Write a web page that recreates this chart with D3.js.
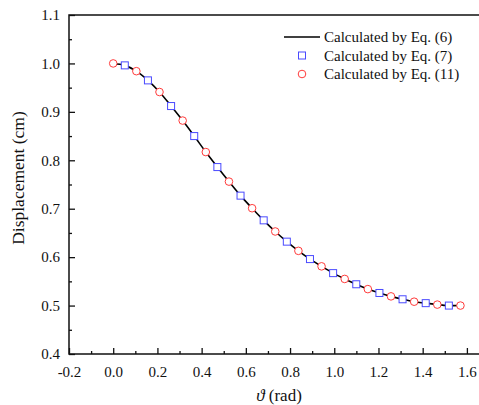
<!DOCTYPE html>
<html>
<head>
<meta charset="utf-8">
<script src="https://cdn.jsdelivr.net/npm/d3@7"></script>
<style>
  body { margin: 0; background: #fff; }
  svg text { font-family: "Liberation Serif", "Times New Roman", serif; fill: #111; }
</style>
</head>
<body>
<div class="js-chart"></div>
<script>
// Angle steps (rad), every pi/60 from 0 to pi/2:
var theta = [0, 0.0524, 0.1047, 0.1571, 0.2094, 0.2618, 0.3142, 0.3665, 0.4189,
  0.4712, 0.5236, 0.576, 0.6283, 0.6807, 0.733, 0.7854, 0.8378, 0.8901, 0.9425,
  0.9948, 1.0472, 1.0996, 1.1519, 1.2043, 1.2566, 1.309, 1.3614, 1.4137, 1.4661,
  1.5184, 1.5708];

// Displacement, one per angle above:
var eq6 = [1.000, 0.996, 0.984, 0.965, 0.941, 0.912, 0.882, 0.850, 0.817,
  0.786, 0.756, 0.727, 0.701, 0.676, 0.653, 0.632, 0.613, 0.596, 0.581,
  0.567, 0.555, 0.544, 0.534, 0.526, 0.519, 0.513, 0.508, 0.505, 0.502,
  0.500, 0.500];

// Eq. (7) squares sit on the odd steps, Eq. (11) circles on the even ones.
var eq7Theta = [0.0524, 0.1571, 0.2618, 0.3665, 0.4712, 0.576, 0.6807, 0.7854,
  0.8901, 0.9948, 1.0996, 1.2043, 1.309, 1.4137, 1.5184];
var eq7 = [0.996, 0.965, 0.912, 0.850, 0.786, 0.727, 0.676, 0.632,
  0.596, 0.567, 0.544, 0.526, 0.513, 0.505, 0.500];

var eq11Theta = [0, 0.1047, 0.2094, 0.3142, 0.4189, 0.5236, 0.6283, 0.733,
  0.8378, 0.9425, 1.0472, 1.1519, 1.2566, 1.3614, 1.4661, 1.5708];
var eq11 = [1.000, 0.984, 0.941, 0.882, 0.817, 0.756, 0.701, 0.653,
  0.613, 0.581, 0.555, 0.534, 0.519, 0.508, 0.502, 0.500];

var xTicks = [-0.2, 0, 0.2, 0.4, 0.6, 0.8, 1.0, 1.2, 1.4, 1.6];
var yTicks = [0.4, 0.5, 0.6, 0.7, 0.8, 0.9, 1.0, 1.1];
var legendLabels = ["Calculated by Eq. (6)", "Calculated by Eq. (7)", "Calculated by Eq. (11)"];

var width = 479;
var height = 405;
var margin = { top: 15, left: 69, bottom: 51 };
// the frame runs on past the right edge of the picture, up to x = 1.7
var plotRight = 489;

var blue = "#4a4aff";
var red = "#ff3b3b";

var svg = d3.select(".js-chart")
  .append("svg")
  .attr("width", width)
  .attr("height", height);

var x = d3.scaleLinear().domain([-0.2, 1.7]).range([margin.left, plotRight]);
var y = d3.scaleLinear().domain([0.4, 1.1]).range([height - margin.bottom, margin.top]);

var fmt = d3.format(".1f");

// Bottom axis: major ticks labelled, minor ticks in between, all pointing in.
var xMinor = xTicks.slice(0, -1).map(function (t) { return t + 0.1; });
var xAxis = svg.append("g")
  .attr("transform", "translate(0," + y(0.4) + ")");
xAxis.append("g")
  .call(d3.axisBottom(x).tickValues(xMinor).tickSize(-3).tickFormat(""));
xAxis.append("g")
  .call(d3.axisBottom(x).tickValues(xTicks).tickSize(-6).tickPadding(12)
    .tickFormat(function (d) { return fmt(d).replace("−", "-"); }));

var yMinor = yTicks.slice(0, -1).map(function (t) { return t + 0.05; });
var yAxis = svg.append("g")
  .attr("transform", "translate(" + x(-0.2) + ",0)");
yAxis.append("g")
  .call(d3.axisLeft(y).tickValues(yMinor).tickSize(-3).tickFormat(""));
yAxis.append("g")
  .call(d3.axisLeft(y).tickValues(yTicks).tickSize(-6).tickPadding(9).tickFormat(fmt));

svg.selectAll(".domain").remove();
svg.selectAll(".tick line").attr("stroke", "#111").attr("stroke-width", 1.3);
svg.selectAll(".tick text").attr("font-size", 15)
  .style("font-family", "'Liberation Serif', serif").attr("fill", "#111");

// Frame: left, bottom and top lines
svg.append("path")
  .attr("d", "M" + plotRight + "," + y(1.1) + "H" + x(-0.2) + "V" + y(0.4) + "H" + plotRight)
  .attr("fill", "none")
  .attr("stroke", "#111")
  .attr("stroke-width", 1.5);

// Eq. (6) curve
var line = d3.line()
  .x(function (d, i) { return x(theta[i]); })
  .y(function (d) { return y(d); })
  .curve(d3.curveCatmullRom);

svg.append("path")
  .datum(eq6)
  .attr("d", line)
  .attr("fill", "none")
  .attr("stroke", "#000")
  .attr("stroke-width", 1.6);

// Eq. (7) squares
svg.selectAll(".js-square")
  .data(eq7)
  .enter()
    .append("rect")
    .attr("class", "js-square")
    .attr("x", function (d, i) { return x(eq7Theta[i]) - 3.5; })
    .attr("y", function (d) { return y(d) - 3.5; })
    .attr("width", 7)
    .attr("height", 7)
    .attr("fill", "#fff")
    .attr("stroke", blue)
    .attr("stroke-width", 1);

// Eq. (11) circles
svg.selectAll(".js-circle")
  .data(eq11)
  .enter()
    .append("circle")
    .attr("class", "js-circle")
    .attr("cx", function (d, i) { return x(eq11Theta[i]); })
    .attr("cy", function (d) { return y(d); })
    .attr("r", 3.8)
    .attr("fill", "#fff")
    .attr("stroke", red)
    .attr("stroke-width", 1);

// Legend
var legend = svg.append("g").attr("transform", "translate(284,37)");
var rowGap = 18.5;

legend.append("line")
  .attr("x1", 0).attr("x2", 36).attr("y1", 0).attr("y2", 0)
  .attr("stroke", "#000").attr("stroke-width", 1.6);
legend.append("rect")
  .attr("x", 18 - 3.5).attr("y", rowGap - 3.5)
  .attr("width", 7).attr("height", 7)
  .attr("fill", "#fff").attr("stroke", blue);
legend.append("circle")
  .attr("cx", 18).attr("cy", rowGap * 2)
  .attr("r", 3.8)
  .attr("fill", "#fff").attr("stroke", red);

legend.selectAll("text")
  .data(legendLabels)
  .enter()
    .append("text")
    .attr("x", 40)
    .attr("y", function (d, i) { return i * rowGap; })
    .attr("dy", "0.35em")
    .attr("font-size", 15)
    .text(function (d) { return d; });

// Axis titles
svg.append("text")
  .attr("transform", "translate(24,178) rotate(-90)")
  .attr("text-anchor", "middle")
  .attr("font-size", 17.5)
  .text("Displacement (cm)");

var xTitle = svg.append("text")
  .attr("x", (margin.left + plotRight) / 2)
  .attr("y", 401)
  .attr("text-anchor", "middle")
  .attr("font-size", 17);
xTitle.append("tspan").attr("font-style", "italic").text("\u03d1");
xTitle.append("tspan").text(" (rad)");
</script>
</body>
</html>
